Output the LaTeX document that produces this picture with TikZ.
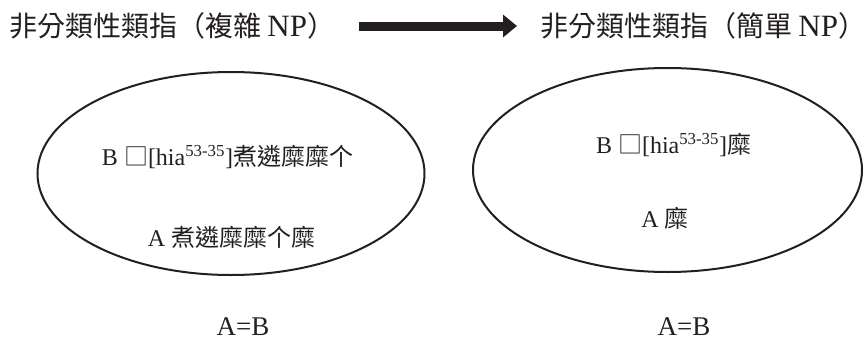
\documentclass[tikz,border=0pt]{standalone}
\usepackage{fontspec}
\setmainfont{Liberation Serif}
\newfontfamily\cjk{Noto Sans CJK TC}
\usetikzlibrary{shapes.geometric,arrows.meta}
\definecolor{ink}{HTML}{231F20}
\tikzset{
  titletext/.style={inner sep=0pt, font=\fontsize{28}{32}\selectfont, text=ink},
  labeltext/.style={inner sep=0pt, font=\fontsize{24}{28}\selectfont, text=ink},
  eqtext/.style={inner sep=0pt, font=\fontsize{27}{30}\selectfont, text=ink},
  setoval/.style={draw=ink, line width=2pt, ellipse, inner sep=0pt},
  bigarrow/.style={draw=ink, line width=9pt, -{Triangle[length=14pt,width=22pt]}}
}
\begin{document}
\begin{tikzpicture}[x=1pt,y=-1pt]
\useasboundingbox (0,0) rectangle (867,343);
% titles
\node[titletext, anchor=west] (t1) at (9,26) {\cjk 非分類性類指（複雜 {\rmfamily\fontsize{31}{34}\selectfont NP}）};
\node[titletext, anchor=west] (t2) at (540,26) {\cjk 非分類性類指（簡單 {\rmfamily\fontsize{31}{34}\selectfont NP}）};
\draw[bigarrow, shorten <=24pt, shorten >=23pt] (t1.east) -- (t2.west);
% ellipses
\node[setoval, minimum width=387pt, minimum height=203pt] (e1) at (231,173.5) {};
\node[setoval, minimum width=389pt, minimum height=204pt] (e2) at (667.5,170) {};
% left contents
\node[labeltext] (lb) at (227.5,157) {B {\cjk □}[hia\textsuperscript{53-35}]{\cjk 煮遴糜糜个}};
\node[labeltext] (la) at (231.5,237) {A {\cjk 煮遴糜糜个糜}};
% right contents
\node[labeltext] (rb) at (673.5,145) {B {\cjk □}[hia\textsuperscript{53-35}]{\cjk 糜}};
\node[labeltext] (ra) at (665,218) {A {\cjk 糜}};
% equalities
\node[eqtext] (q1) at (243,327) {A=B};
\node[eqtext] (q2) at (684,327) {A=B};
\end{tikzpicture}
\end{document}
